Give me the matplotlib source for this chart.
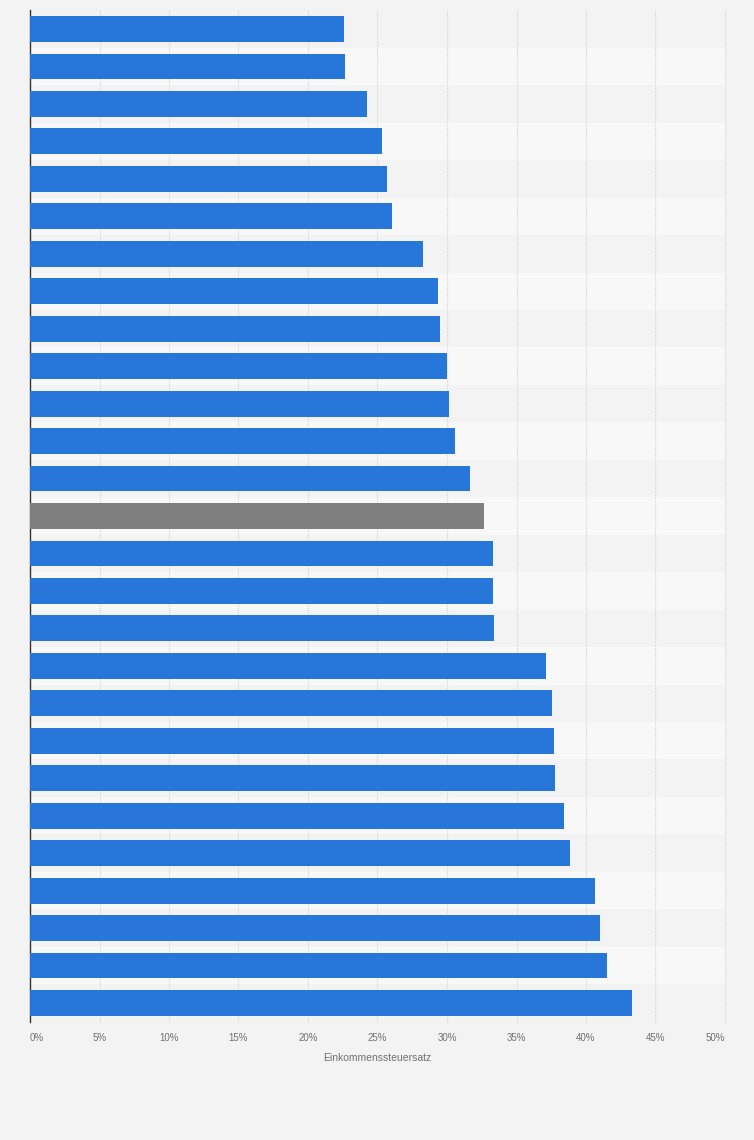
import matplotlib
matplotlib.use("Agg")
import matplotlib.pyplot as plt
import numpy as np

plt.rcParams['font.family'] = ['Liberation Sans', 'DejaVu Sans']

# Data (income tax rate in %, top to bottom)
values = [22.57, 22.64, 24.23, 25.31, 25.67, 26.03, 28.29, 29.34, 29.49, 30.02,
          30.17, 30.60, 31.68, 32.66, 33.31, 33.31, 33.38, 37.13, 37.56, 37.73,
          37.80, 38.42, 38.88, 40.66, 41.04, 41.48, 43.28]
highlight_index = 13
x_ticks = [0, 5, 10, 15, 20, 25, 30, 35, 40, 45, 50]
x_tick_labels = [f"{t}%" for t in x_ticks]
x_label = "Einkommenssteuersatz"

W, H = 754, 1140
fig = plt.figure(figsize=(W / 100, H / 100), dpi=100)
fig.patch.set_facecolor('#f3f3f3')

left, right = 30 / W, 725 / W
top_px, bottom_px = 10.3, 1021.7
ax = fig.add_axes([left, 1 - bottom_px / H, right - left, (bottom_px - top_px) / H])
ax.set_facecolor('#f3f3f3')

n = len(values)
pos = np.arange(n)

# alternating row bands
for i in range(n):
    if i % 2 == 1:
        ax.axhspan(i - 0.5, i + 0.5, color='#f8f8f8', zorder=0, lw=0)

colors = ['#2776d9'] * n
colors[highlight_index] = '#7f7f7f'
ax.barh(pos, values, height=0.69, color=colors, edgecolor='none', zorder=3)

ax.set_xlim(0, 50)
ax.set_ylim(n - 0.5, -0.5)

ax.set_xticks(x_ticks)
ax.set_xticklabels(x_tick_labels)
for t in x_ticks[1:]:
    ax.axvline(t, color='#d6d6d6', lw=0.8, ls=(0, (1, 1)), zorder=1, clip_on=False)

ax.tick_params(axis='x', length=0, pad=8, labelsize=7, labelcolor='#707070')
labels = ax.get_xticklabels()
labels[0].set_ha('left')
labels[-1].set_ha('right')
ax.set_yticks([])

for s in ['top', 'right', 'bottom']:
    ax.spines[s].set_visible(False)
ax.spines['left'].set_color('#333333')
ax.spines['left'].set_linewidth(1.0)

ax.set_xlabel(x_label, fontsize=7.5, color='#707070', labelpad=7)

fig.savefig('out.png', dpi=100, facecolor=fig.get_facecolor())
